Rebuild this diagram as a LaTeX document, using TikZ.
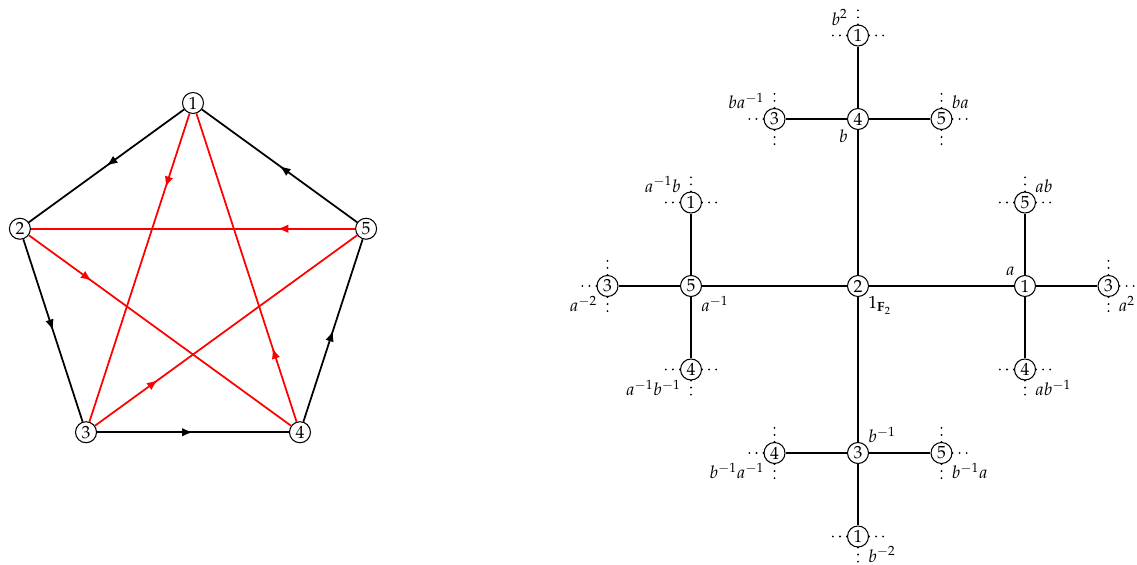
\documentclass[tikz,border=0pt]{standalone}
\usepackage{mathpazo}
\usepackage[T1]{fontenc}
\usepackage{tikz}
\usetikzlibrary{arrows.meta, positioning, calc, decorations.markings}
\definecolor{myred}{RGB}{255,0,0}
\tikzset{
  vert/.style={circle, draw, fill=white, minimum size=0.42cm,
    inner sep=0pt, line width=0.6pt},
  edge/.style={line width=1pt},
  midarrow/.style={edge, postaction={decorate},
    decoration={markings, mark=at position 0.5 with {\arrow{Latex[length=2.2mm,width=1.7mm]}}}},
  redarrow/.style={edge, color=myred, postaction={decorate},
    decoration={markings, mark=at position 0.24 with {\arrow{Latex[length=2.2mm,width=1.7mm]}}}},
  dots/.style={line width=1.2pt, line cap=round, dash pattern=on 0pt off 4pt},
  lab/.style={label distance=-3pt}
}

\begin{document}
\begin{tikzpicture}[on grid]
  \useasboundingbox (0,0) rectangle (22.74,-11.3);

  % the pentagon
  \begin{scope}[shift={(3.86,-5.7)}]
    \foreach \i in {1,...,5}
      \node[vert] (p\i) at ({18+72*\i}:3.64) {\i};
  \end{scope}
  \draw[midarrow] (p1) -- (p2);
  \draw[midarrow] (p2) -- (p3);
  \draw[midarrow] (p3) -- (p4);
  \draw[midarrow] (p4) -- (p5);
  \draw[midarrow] (p5) -- (p1);
  \draw[redarrow] (p1) -- (p3);
  \draw[redarrow] (p3) -- (p5);
  \draw[redarrow] (p5) -- (p2);
  \draw[redarrow] (p2) -- (p4);
  \draw[redarrow] (p4) -- (p1);

  % the tree
  \node[vert, label={[lab]below right:$1_{\mathbf{F}_2}$}] (e) at (17.16,-5.72) {2};
  \node[vert, right=3.34cm of e, label={[lab]above left:$a$}] (a) {1};
  \node[vert, left=3.34cm of e, label={[lab]below right:$a^{-1}$}] (ai) {5};
  \node[vert, above=3.34cm of e, label={[lab]below left:$b$}] (b) {4};
  \node[vert, below=3.34cm of e, label={[lab]above right:$b^{-1}$}] (bi) {3};

  \node[vert, above=1.67cm of a, label={[lab]above right:$ab$}] (ab) {5};
  \node[vert, right=1.67cm of a, label={[lab]below right:$a^2$}] (aa) {3};
  \node[vert, below=1.67cm of a, label={[lab]below right:$ab^{-1}$}] (abi) {4};
  \node[vert, above=1.67cm of ai, label={[lab]above left:$a^{-1}b$}] (aib) {1};
  \node[vert, left=1.67cm of ai, label={[lab]below left:$a^{-2}$}] (aiai) {3};
  \node[vert, below=1.67cm of ai, label={[lab]below left:$a^{-1}b^{-1}$}] (aibi) {4};
  \node[vert, above=1.67cm of b, label={[lab]above left:$b^2$}] (bb) {1};
  \node[vert, left=1.67cm of b, label={[lab]above left:$ba^{-1}$}] (bai) {3};
  \node[vert, right=1.67cm of b, label={[lab]above right:$ba$}] (ba) {5};
  \node[vert, left=1.67cm of bi, label={[lab]below left:$b^{-1}a^{-1}$}] (biai) {4};
  \node[vert, right=1.67cm of bi, label={[lab]below right:$b^{-1}a$}] (bia) {5};
  \node[vert, below=1.67cm of bi, label={[lab]below right:$b^{-2}$}] (bibi) {1};

  \foreach \x in {a,ai,b,bi}
    \draw[edge] (e) -- (\x);
  \foreach \x/\y in {a/ab,a/aa,a/abi,ai/aib,ai/aiai,ai/aibi,
                     b/bb,b/bai,b/ba,bi/biai,bi/bia,bi/bibi}
    \draw[edge] (\x) -- (\y);

  % dots at the leaves (none back towards the parent)
  \foreach \y/\s in {ab/270,aa/180,abi/90,aib/270,aiai/0,aibi/90,
                     bb/270,bai/0,ba/180,biai/0,bia/180,bibi/90}
    \foreach \d in {0,90,180,270}
      {\ifnum\d=\s\else
        \draw[dots] (\y.\d) -- ($(\y)+(\d:0.52)$);
      \fi}
\end{tikzpicture}
\end{document}
